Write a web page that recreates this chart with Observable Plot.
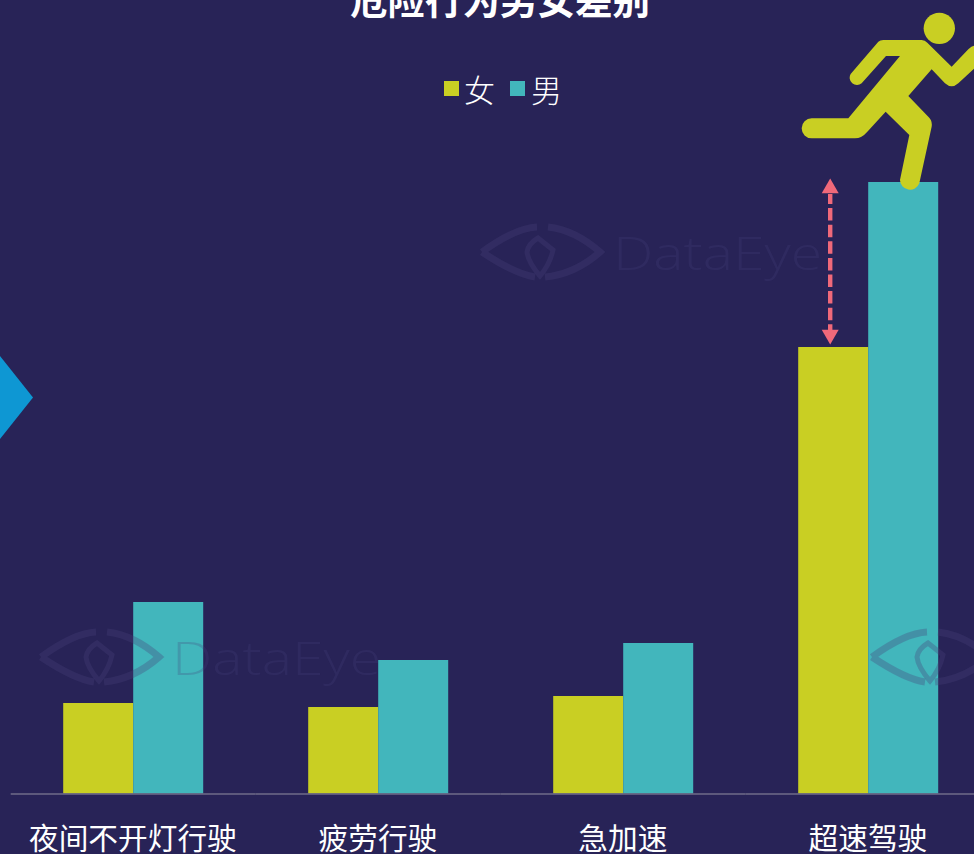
<!DOCTYPE html>
<html lang="zh">
<head>
<meta charset="utf-8">
<script src="https://cdn.jsdelivr.net/npm/d3@7"></script>
<script src="https://cdn.jsdelivr.net/npm/@observablehq/plot@0.6"></script>
<style>
html,body{margin:0;padding:0;background:#282357;overflow:hidden;width:974px;height:854px;}
#wrap{position:relative;width:974px;height:854px;overflow:hidden;font-family:"Noto Sans CJK SC",sans-serif;color:#fff;}
#wrap svg{position:absolute;left:0;top:0;display:block;}
#title{position:absolute;left:0;width:1000px;top:-27px;text-align:center;font-size:37.5px;line-height:50px;font-weight:700;white-space:nowrap;z-index:2;}
.sw{position:absolute;top:81px;width:15px;height:15px;z-index:2;}
.lb{position:absolute;top:67px;font-size:31px;line-height:44px;font-weight:300;z-index:2;}
</style>
</head>
<body>
<div id="wrap">
<div id="title">危险行为男女差别</div>
<div class="sw" style="left:444px;background:#c9cf23"></div><div class="lb" style="left:464px">女</div>
<div class="sw" style="left:510px;background:#42b6bc"></div><div class="lb" style="left:531px">男</div>
</div>
<script>
const categories = ["夜间不开灯行驶", "疲劳行驶", "急加速", "超速驾驶"];
const series = ["女", "男"];
const female = [90.5, 86.5, 97.5, 446.5];
const male = [191.5, 133.5, 150.5, 611.5];
const colors = ["#c9cf23", "#42b6bc"];

const rows = categories.flatMap((c, i) => [
  {category: c, sex: series[0], value: female[i]},
  {category: c, sex: series[1], value: male[i]}
]);
const gap = [{category: categories[3], sex: series[0], low: female[3], high: male[3]}];

const chart = Plot.plot({
  width: 974, height: 854,
  marginTop: 0, marginBottom: 60.5, marginLeft: 10.7, marginRight: -16.7,
  style: {background: "transparent", overflow: "hidden"},
  fx: {domain: categories, paddingInner: 0.42857, paddingOuter: 0.214285, round: false, label: null, axis: null},
  x: {domain: series, padding: 0, round: false, axis: null},
  y: {domain: [0, 793.5], axis: null},
  color: {domain: series, range: colors},
  marks: [
    Plot.barY(rows, {fx: "category", x: "sex", y: "value", fill: "sex", inset: 0}),
    Plot.ruleY([0], {stroke: "#6f6c88", strokeWidth: 1.6, insetLeft: -52.5, insetRight: -52.5}),
    Plot.ruleX(gap, {fx: "category", x: "sex", y1: "high", y2: "low", dx: -3.5, stroke: "#f0697a", strokeWidth: 4.4, strokeDasharray: "12.5 4.1", strokeDashoffset: 2.5, insetTop: 12, insetBottom: 14}),
    Plot.dot(gap, {fx: "category", x: "sex", y: "high", dx: -3.5, dy: 5.8, symbol: "triangle", r: 6.3, fill: "#f0697a", stroke: "none"}),
    Plot.dot(gap, {fx: "category", x: "sex", y: "low", dx: -3.5, dy: -12.8, symbol: "triangle", rotate: 180, r: 6.3, fill: "#f0697a", stroke: "none"}),
    Plot.axisFx({anchor: "bottom", label: null, tickSize: 0, tickPadding: 34, dx: -0.8, fontSize: 29.7, color: "#fff", fontWeight: 400, fontFamily: "'Noto Sans CJK SC',sans-serif"})
  ]
});
document.getElementById("wrap").appendChild(chart);

const svg = d3.select(chart);
// decorative: diamond
svg.append("path").attr("d", "M0,356L33,397.5L0,439Z").attr("fill", "#0e97d3");
// decorative: runner
const runner = svg.append("g").attr("transform", "translate(780,0) scale(0.3333)").attr("fill", "#c9cf23");
runner.append("circle").attr("cx", 478).attr("cy", 85).attr("r", 47);
runner.append("path").attr("d", "M295,125Q300,120 310,120L425,120Q435,120 442,128L515,200L565,148Q575,138 582,137L600,137L600,190L535,250Q515,268 495,250L455,208L385,288L445,350Q458,362 455,380L418,550A30,30 0 0 1 360,540L388,405L317,335L262,395Q245,415 225,415L95,415A30,30 0 0 1 95,355L205,355L360,168L318,168L245,250A22,22 0 0 1 212,222Z");
// decorative: watermarks
for (const [tx, ty] of [[540, 252], [99, 657], [930, 657]]) {
  const g = svg.append("g").attr("transform", `translate(${tx},${ty})`).attr("pointer-events", "none");
  const eye = g.append("g").attr("fill", "none").attr("stroke", "#46417a").attr("stroke-opacity", 0.32).attr("stroke-width", 7);
  eye.append("path").attr("d", "M-58,0Q-25,-24 -3,-25M8,-25Q35,-22 60,0Q35,22 5,25M-5,25Q-25,22 -58,0");
  eye.append("path").attr("d", "M-2,-14L13,-2Q10,12 0,24Q-12,10 -13,0Q-12,-8 -2,-14Z").attr("stroke-width", 5);
  g.append("text").attr("x", 73).attr("y", 18).attr("text-anchor", "start").attr("font-family", "'Open Sans',sans-serif").attr("font-weight", 300).attr("font-size", 46).attr("textLength", 209).attr("lengthAdjust", "spacingAndGlyphs").attr("fill", "#46417a").attr("fill-opacity", 0.26).text("DataEye");
}
</script>
</body>
</html>
